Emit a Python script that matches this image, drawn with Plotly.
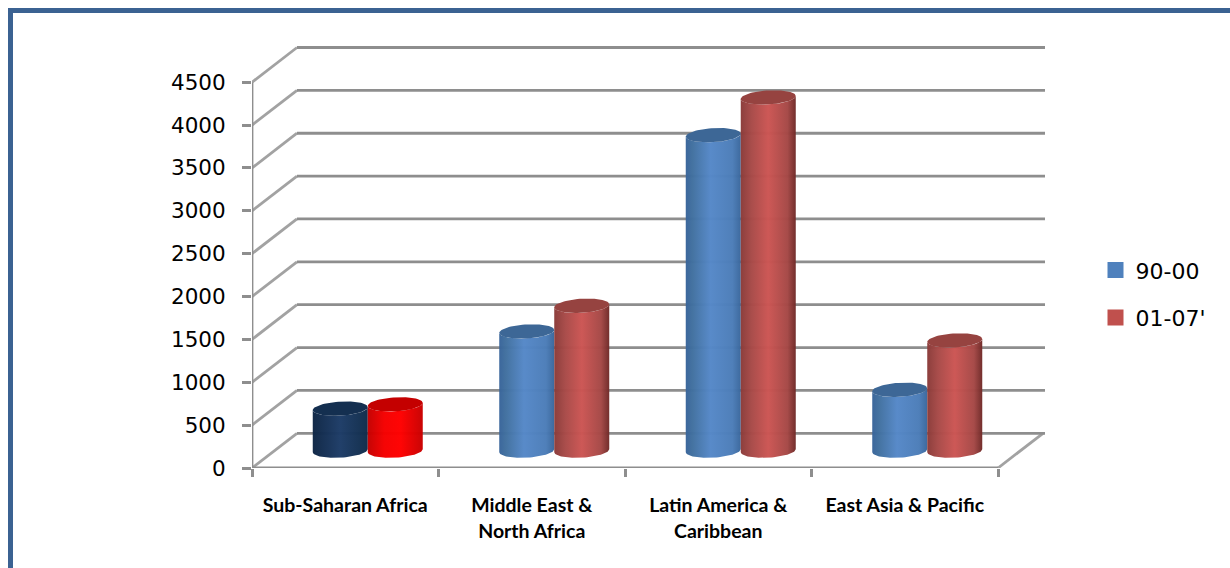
import numpy as np
import plotly.graph_objects as go

categories = ["Sub-Saharan Africa", "Middle East &<br>North Africa", "Latin America &<br>Caribbean", "East Asia & Pacific"]
series_names = ["90-00", "01-07'"]
values_90_00 = [490, 1390, 3680, 710]
values_01_07 = [540, 1690, 4120, 1285]
y_ticks = [0, 500, 1000, 1500, 2000, 2500, 3000, 3500, 4000, 4500]

W, H = 1230, 568
L, R, T, B = 252, 1050, 45, 467.7
PX_X = 186.5            # px per category
PX_Y = 385.5 / 4500     # px per value
DX = 45 / PX_X          # depth offset of the back wall
DY = 34.7 / PX_Y
BAR_W = 55 / PX_X
ELL = 7 / PX_Y
TILT = 1.5 / PX_Y
XEND = (1045 - L) / PX_X
GRID = "#8e8e8e"
DIAG = "#a2a2a2"

BLUE = dict(body=[[0, "#38649a"], [0.12, "#41709f"], [0.45, "#5588c8"], [0.85, "#4c7db8"], [1, "#3a679c"]], top="#3d6796")
RED = dict(body=[[0, "#8a3b39"], [0.2, "#a84a48"], [0.5, "#cc5553"], [0.85, "#a54846"], [1, "#702a28"]], top="#964340")
NAVY = dict(body=[[0, "#0e2645"], [0.5, "#1d3c67"], [1, "#102c4a"]], top="#142f50")
PURE = dict(body=[[0, "#c40000"], [0.3, "#f50000"], [0.6, "#ff0000"], [1, "#c80000"]], top="#c40000")

fig = go.Figure()

# walls: gridlines with depth
hx, hy, dx, dy = [], [], [], []
for t in y_ticks:
    dx += [0, DX, None]
    dy += [t, t + DY, None]
    hx += [DX, XEND, None]
    hy += [t + DY, t + DY, None]
dx += [4, 4 + DX, None]
dy += [0, DY, None]
fig.add_trace(go.Scatter(x=dx, y=dy, mode="lines", line=dict(color=DIAG, width=2.8), hoverinfo="skip", showlegend=False))
fig.add_trace(go.Scatter(x=hx, y=hy, mode="lines", line=dict(color=GRID, width=2.8), hoverinfo="skip", showlegend=False))
fig.add_trace(go.Scatter(x=[0, 0, None, 0, 4], y=[0, 4500, None, 0, 0], mode="lines",
                         line=dict(color=GRID, width=2.8), hoverinfo="skip", showlegend=False))


def cylinder(cx, value, style, name):
    th = np.linspace(0, np.pi, 40)
    base = DY / 2
    top = value + base
    xs = BAR_W / 2
    # front-facing body
    bx = cx - xs * np.cos(th)
    by = base - ELL * np.sin(th) + TILT * (-np.cos(th))
    tx = cx + xs * np.cos(th)
    ty = top - ELL * np.sin(th) + TILT * np.cos(th)
    fig.add_trace(go.Scatter(x=np.r_[bx, tx], y=np.r_[by, ty], mode="lines", line=dict(width=0), fill="toself",
                             fillgradient=dict(type="horizontal", colorscale=style["body"]), opacity=0.98,
                             name=name, hoverinfo="name", showlegend=False))
    a = np.linspace(0, 2 * np.pi, 70)
    fig.add_trace(go.Scatter(x=cx + xs * np.cos(a), y=top + ELL * np.sin(a) + TILT * np.cos(a), mode="lines",
                             line=dict(width=0), fill="toself", fillcolor=style["top"],
                             name=name, hoverinfo="name", showlegend=False))


for i in range(len(categories)):
    c = i + 0.5 + DX / 2
    cylinder(c - BAR_W / 2, values_90_00[i], NAVY if i == 0 else BLUE, series_names[0])
    cylinder(c + BAR_W / 2, values_01_07[i], PURE if i == 0 else RED, series_names[1])

for name, col in zip(series_names, ["#4f81bd", "#c0504d"]):
    fig.add_trace(go.Scatter(x=[None], y=[None], mode="markers", name=name, legendgroup=name,
                             marker=dict(symbol="square", size=16, color=col)))

px = lambda p: (p - L) / (R - L)
py = lambda p: (B - p) / (B - T)
fig.add_shape(type="rect", xref="paper", yref="paper", x0=px(10.5), x1=px(1400), y0=py(10.5), y1=py(800),
              line=dict(color="#3b6292", width=5), layer="below")

fig.update_layout(
    width=W, height=H, autosize=False,
    margin=dict(l=L, r=W - R, t=T, b=H - B, pad=0),
    paper_bgcolor="white", plot_bgcolor="rgba(0,0,0,0)",
    showlegend=True,
    legend=dict(x=px(1095.5), xanchor="left", y=py(249), yanchor="top", font=dict(family="DejaVu Sans", size=22, color="black"),
                tracegroupgap=16, bgcolor="rgba(0,0,0,0)", itemsizing="trace"),
    xaxis=dict(range=[0, (R - L) / PX_X], showgrid=False, zeroline=False, showline=False,
               tickmode="array", tickvals=[i + 0.5 for i in range(len(categories))],
               ticktext=[f'<span style="font-size:19.5px"><b>{c}</b></span>' for c in categories],
               ticks="", tickangle=0, ticklabelstandoff=23,
               tickfont=dict(family="Lato", size=20, color="black"),
               minor=dict(tickmode="array", tickvals=[0, 1, 2, 3, 4], ticks="outside", ticklen=8, tickwidth=2.8, tickcolor=GRID, showgrid=False)),
    yaxis=dict(range=[0, (B - T) / PX_Y], showgrid=False, zeroline=False, showline=False,
               tickmode="array", tickvals=y_ticks, ticktext=[str(t) for t in y_ticks],
               ticks="outside", ticklen=9, tickwidth=2.8, tickcolor=GRID, ticklabelstandoff=12,
               tickfont=dict(family="DejaVu Sans", size=21.5, color="black")),
)

fig.write_html("out.html", config=dict(displayModeBar=False),
               post_script="document.body.style.margin='0';document.body.style.overflow='hidden';")
